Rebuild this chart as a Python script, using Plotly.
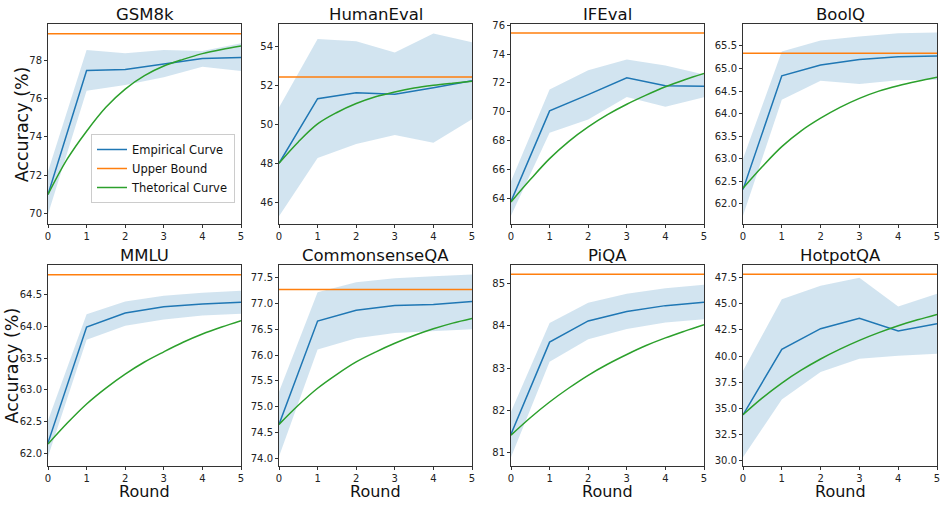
import plotly.graph_objects as go

# ---------------- data ----------------
rounds = [0, 1, 2, 3, 4, 5]
theo_x = [0, 0.5, 1, 1.5, 2, 2.5, 3, 3.5, 4, 4.5, 5]
x_ticks = [0, 1, 2, 3, 4, 5]

benchmarks = ["GSM8k", "HumanEval", "IFEval", "BoolQ",
              "MMLU", "CommonsenseQA", "PiQA", "HotpotQA"]
series_names = ["Empirical Curve", "Upper Bound", "Thetorical Curve"]
x_title = "Round"
y_title = "Accuracy (%)"

gsm8k_emp = [71.0, 77.47, 77.52, 77.8, 78.1, 78.15]
gsm8k_lo = [69.97, 76.41, 76.71, 77.11, 77.67, 77.44]
gsm8k_hi = [72.2, 78.54, 78.37, 78.54, 78.49, 78.89]
gsm8k_ub = 79.39
gsm8k_theo = [71.0, 72.85, 74.3, 75.55, 76.5, 77.2, 77.7, 78.05, 78.35, 78.57, 78.75]

humaneval_emp = [48.0, 51.33, 51.64, 51.56, 51.9, 52.26]
humaneval_lo = [45.27, 48.27, 48.99, 49.46, 49.06, 50.27]
humaneval_hi = [50.88, 54.41, 54.29, 53.72, 54.7, 54.24]
humaneval_ub = 52.45
humaneval_theo = [48.0, 49.1, 50.03, 50.62, 51.08, 51.43, 51.68, 51.88, 52.02, 52.13, 52.23]

ifeval_emp = [63.79, 70.06, 71.19, 72.35, 71.81, 71.77]
ifeval_lo = [62.8, 68.55, 69.46, 71.03, 70.34, 71.0]
ifeval_hi = [65.18, 71.54, 72.88, 73.62, 73.2, 72.58]
ifeval_ub = 75.45
ifeval_theo = [63.75, 65.3, 66.75, 67.95, 68.95, 69.8, 70.52, 71.15, 71.73, 72.22, 72.65]

boolq_emp = [62.32, 64.84, 65.08, 65.2, 65.26, 65.28]
boolq_lo = [61.74, 64.31, 64.73, 64.66, 64.74, 64.75]
boolq_hi = [63.0, 65.38, 65.62, 65.71, 65.78, 65.8]
boolq_ub = 65.34
boolq_theo = [62.35, 62.83, 63.27, 63.62, 63.9, 64.14, 64.34, 64.5, 64.62, 64.72, 64.81]

mmlu_emp = [62.17, 63.99, 64.21, 64.31, 64.35, 64.38]
mmlu_lo = [61.95, 63.79, 64.01, 64.11, 64.17, 64.2]
mmlu_hi = [62.52, 64.19, 64.39, 64.48, 64.53, 64.56]
mmlu_ub = 64.81
mmlu_theo = [62.15, 62.48, 62.78, 63.03, 63.25, 63.44, 63.6, 63.75, 63.88, 63.99, 64.09]

csqa_emp = [74.66, 76.66, 76.87, 76.96, 76.98, 77.04]
csqa_lo = [74.04, 76.11, 76.33, 76.43, 76.47, 76.5]
csqa_hi = [75.29, 77.22, 77.41, 77.49, 77.53, 77.56]
csqa_ub = 77.27
csqa_theo = [74.66, 75.03, 75.36, 75.63, 75.87, 76.06, 76.23, 76.38, 76.51, 76.62, 76.71]

piqa_emp = [81.44, 83.61, 84.11, 84.33, 84.47, 84.55]
piqa_lo = [80.9, 83.15, 83.68, 83.92, 84.07, 84.15]
piqa_hi = [81.97, 84.06, 84.54, 84.75, 84.88, 84.96]
piqa_ub = 85.21
piqa_theo = [81.42, 81.83, 82.2, 82.53, 82.83, 83.09, 83.32, 83.53, 83.71, 83.87, 84.02]

hotpot_emp = [34.37, 40.65, 42.62, 43.61, 42.4, 43.1]
hotpot_lo = [30.32, 35.86, 38.48, 39.75, 40.04, 40.23]
hotpot_hi = [38.61, 45.43, 46.73, 47.5, 44.73, 45.97]
hotpot_ub = 47.82
hotpot_theo = [34.4, 36.0, 37.42, 38.65, 39.72, 40.66, 41.5, 42.24, 42.9, 43.47, 43.99]

emp_all = [gsm8k_emp, humaneval_emp, ifeval_emp, boolq_emp, mmlu_emp, csqa_emp, piqa_emp, hotpot_emp]
lo_all = [gsm8k_lo, humaneval_lo, ifeval_lo, boolq_lo, mmlu_lo, csqa_lo, piqa_lo, hotpot_lo]
hi_all = [gsm8k_hi, humaneval_hi, ifeval_hi, boolq_hi, mmlu_hi, csqa_hi, piqa_hi, hotpot_hi]
ub_all = [gsm8k_ub, humaneval_ub, ifeval_ub, boolq_ub, mmlu_ub, csqa_ub, piqa_ub, hotpot_ub]
theo_all = [gsm8k_theo, humaneval_theo, ifeval_theo, boolq_theo, mmlu_theo, csqa_theo, piqa_theo, hotpot_theo]

# ---------------- layout / style ----------------
W, H = 946, 507
col_px = [(48, 241), (279, 472), (511, 704), (743, 937)]
row_px = [(24.3, 224.3), (265.3, 465.7)]
ytitle_x_px = [22, 11]
y_ranges = [[69.44, 79.88], [44.85, 55.17], [62.2, 76.06], [61.55, 65.98],
            [61.81, 64.96], [73.86, 77.74], [80.70, 85.42], [29.52, 48.68]]
y_dticks = [2, 2, 2, 0.5, 0.5, 0.5, 1, 2.5]
y_fmts = ["d", "d", "d", ".1f", ".1f", ".1f", "d", ".1f"]

BLUE = "#1f77b4"
ORANGE = "#ff7f0e"
GREEN = "#2ca02c"
FONT = "DejaVu Sans"

fig = go.Figure()
layout_axes = {}
annotations = []

for i in range(8):
    r, c = divmod(i, 4)
    n = i + 1
    xa = "x" if n == 1 else f"x{n}"
    ya = "y" if n == 1 else f"y{n}"
    first = (i == 0)

    # band
    fig.add_trace(go.Scatter(
        x=rounds + rounds[::-1], y=hi_all[i] + lo_all[i][::-1],
        fill="toself", fillcolor="rgba(31,119,180,0.2)",
        line=dict(width=0, color="rgba(0,0,0,0)"), mode="lines",
        hoverinfo="skip", showlegend=False, xaxis=xa, yaxis=ya))
    # empirical
    fig.add_trace(go.Scatter(
        x=rounds, y=emp_all[i], mode="lines", name=series_names[0],
        line=dict(color=BLUE, width=1.5), showlegend=first, legendrank=1,
        xaxis=xa, yaxis=ya))
    # upper bound
    fig.add_trace(go.Scatter(
        x=[rounds[0], rounds[-1]], y=[ub_all[i], ub_all[i]], mode="lines",
        name=series_names[1], line=dict(color=ORANGE, width=1.5),
        showlegend=first, legendrank=2, xaxis=xa, yaxis=ya))
    # theoretical
    fig.add_trace(go.Scatter(
        x=theo_x, y=theo_all[i], mode="lines", name=series_names[2],
        line=dict(color=GREEN, width=1.5, shape="spline"),
        showlegend=first, legendrank=3, xaxis=xa, yaxis=ya))

    x0, x1 = col_px[c]
    yt, yb = row_px[r]
    common = dict(showline=True, linecolor="#333333", linewidth=1, mirror=True,
                  ticks="outside", ticklen=3, tickwidth=0.8, tickcolor="#333333",
                  showgrid=False, zeroline=False, automargin=False,
                  tickfont=dict(family=FONT, size=10, color="#222222"))
    xkey = "xaxis" if n == 1 else f"xaxis{n}"
    ykey = "yaxis" if n == 1 else f"yaxis{n}"
    layout_axes[xkey] = dict(domain=[x0 / W, x1 / W], anchor=ya, range=[0, 5],
                             tickmode="array", tickvals=x_ticks, **common)
    layout_axes[ykey] = dict(domain=[1 - yb / H, 1 - yt / H], anchor=xa, range=y_ranges[i],
                             tickmode="linear", tick0=0, dtick=y_dticks[i],
                             tickformat=y_fmts[i], **common)

    # subplot title
    annotations.append(dict(
        text=benchmarks[i], xref="paper", yref="paper",
        x=(x0 + x1) / 2 / W, y=1 - (yt - 9.5) / H,
        xanchor="center", yanchor="middle", showarrow=False,
        font=dict(family=FONT, size=16.5, color="#111111")))
    # x title (bottom row)
    if r == 1:
        annotations.append(dict(
            text=x_title, xref="paper", yref="paper",
            x=(x0 + x1) / 2 / W, y=1 - 491 / H,
            xanchor="center", yanchor="middle", showarrow=False,
            font=dict(family=FONT, size=16, color="#111111")))
    # y title (left column)
    if c == 0:
        annotations.append(dict(
            text=y_title, xref="paper", yref="paper", textangle=-90,
            x=ytitle_x_px[r] / W, y=1 - (yt + yb) / 2 / H,
            xanchor="center", yanchor="middle", showarrow=False,
            font=dict(family=FONT, size=17.5, color="#111111")))

fig.update_layout(
    width=W, height=H,
    margin=dict(l=0, r=0, t=0, b=0, autoexpand=False),
    paper_bgcolor="white", plot_bgcolor="white",
    showlegend=True,
    legend=dict(x=235 / W, y=1 - 203 / H, xanchor="right", yanchor="bottom",
                bgcolor="rgba(255,255,255,0.8)", bordercolor="#cccccc", borderwidth=1,
                font=dict(family=FONT, size=11.5, color="#111111"),
                tracegroupgap=0, itemwidth=30),
    annotations=annotations,
    **layout_axes,
)

fig.write_html(
    "out.html",
    config={"displayModeBar": False},
    post_script="document.body.style.margin='0';document.body.style.padding='0';"
                "document.body.style.overflow='hidden';",
)
